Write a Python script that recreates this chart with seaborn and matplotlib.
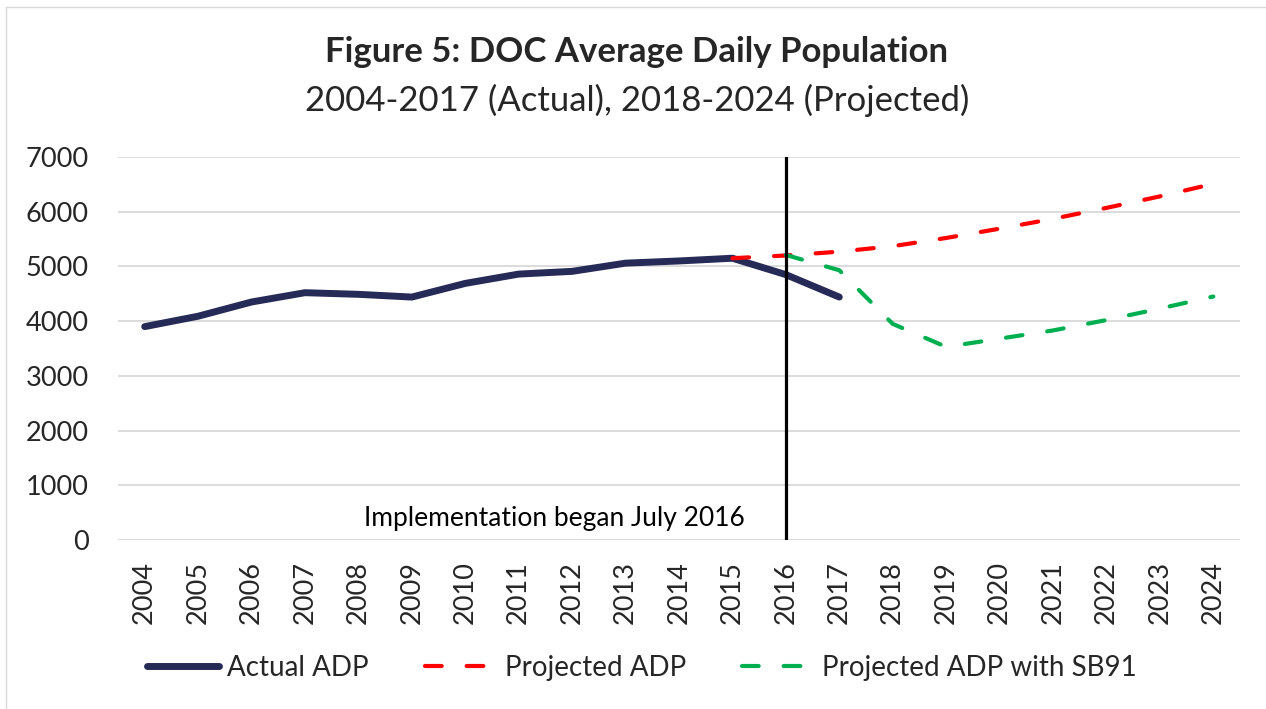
import matplotlib
matplotlib.use("Agg")
import matplotlib.pyplot as plt
import seaborn as sns
import pandas as pd
from matplotlib.lines import Line2D

# ---- data ----
years_actual = [2004, 2005, 2006, 2007, 2008, 2009, 2010, 2011, 2012, 2013, 2014, 2015, 2016, 2017]
actual_adp = [3900, 4090, 4350, 4520, 4490, 4440, 4690, 4860, 4910, 5060, 5100, 5150, 4850, 4440]

years_proj = [2015, 2016, 2017, 2018, 2019, 2020, 2021, 2022, 2023, 2024]
projected_adp = [5150, 5200, 5270, 5370, 5520, 5690, 5870, 6070, 6280, 6510]

years_sb91 = [2016, 2017, 2018, 2019, 2020, 2021, 2022, 2023, 2024]
projected_sb91 = [5210, 4930, 3950, 3530, 3680, 3830, 4020, 4230, 4450]

all_years = list(range(2004, 2025))
y_ticks = [0, 1000, 2000, 3000, 4000, 5000, 6000, 7000]

title = "Figure 5: DOC Average Daily Population"
subtitle = "2004-2017 (Actual), 2018-2024 (Projected)"
annotation = "Implementation began July 2016"
labels = ["Actual ADP", "Projected ADP", "Projected ADP with SB91"]
colors = ["#262A56", "#FF0000", "#00B050"]

sns.set_theme(style="white")
plt.rcParams["font.family"] = ["Lato", "DejaVu Sans"]
plt.rcParams["xtick.major.size"] = 0
plt.rcParams["ytick.major.size"] = 0
plt.rcParams["xtick.major.pad"] = 15
plt.rcParams["ytick.major.pad"] = 21

W, H = 1266, 709
fig = plt.figure(figsize=(W / 100, H / 100), dpi=100)
ax = fig.add_axes([118 / W, (H - 540) / H, (1240 - 118) / W, (540 - 157) / H])

df_a = pd.DataFrame({"year": years_actual, "val": actual_adp})
df_p = pd.DataFrame({"year": years_proj, "val": projected_adp})
df_s = pd.DataFrame({"year": years_sb91, "val": projected_sb91})

for v in y_ticks:
    ax.axhline(v, color="#D9D9D9", lw=1.3, zorder=0)

dash = (4, 6)
sns.lineplot(data=df_p, x="year", y="val", ax=ax, color=colors[1], lw=3.0, zorder=3)
sns.lineplot(data=df_s, x="year", y="val", ax=ax, color=colors[2], lw=3.0, zorder=3)
sns.lineplot(data=df_a, x="year", y="val", ax=ax, color=colors[0], lw=5.0, zorder=2)
for ln in ax.get_lines():
    ln.set_solid_capstyle("round")
    c = matplotlib.colors.to_hex(ln.get_color()).upper()
    if c in ("#FF0000", "#00B050"):
        ln.set_dashes(dash)
        ln.set_dash_capstyle("round")

ax.axvline(2016, color="black", lw=2.3, zorder=4)
ax.text(2015.23, 400, annotation, ha="right", va="center", fontsize=19, color="black")

ax.set_xlim(2003.5, 2024.5)
ax.set_ylim(0, 7000)
ax.set_xticks(all_years)
ax.set_xticklabels([str(y) for y in all_years], rotation=90, fontsize=19.5, va="top")
ax.set_yticks(y_ticks)
ax.set_yticklabels([str(v) for v in y_ticks], fontsize=19.5)
for t in ax.yaxis.get_major_ticks():
    t.set_pad(21)
for t in ax.xaxis.get_major_ticks():
    t.set_pad(15)
ax.set_xlabel("")
ax.set_ylabel("")
for s in ax.spines.values():
    s.set_visible(False)

fig.text(637 / W, 1 - 52 / H, title, ha="center", va="center", fontsize=25, fontweight="bold")
fig.text(637 / W, 1 - 100 / H, subtitle, ha="center", va="center", fontsize=25)

handles = [
    Line2D([0], [0], color=colors[0], lw=5, solid_capstyle="round"),
    Line2D([0], [0], color=colors[1], lw=3.0, dashes=dash, dash_capstyle="round"),
    Line2D([0], [0], color=colors[2], lw=3.0, dashes=dash, dash_capstyle="round"),
]
fig.legend(handles, labels, loc="center", bbox_to_anchor=(642 / W, 1 - 668 / H), ncol=3,
           frameon=False, fontsize=20, handlelength=2.6, handletextpad=0.3,
           columnspacing=2.0)

# light chart-area border (top & left)
fig.add_artist(Line2D([6 / W, 6 / W], [0, 1 - 7 / H], color="#D9D9D9", lw=1, transform=fig.transFigure))
fig.add_artist(Line2D([6 / W, 1], [1 - 7 / H, 1 - 7 / H], color="#D9D9D9", lw=1, transform=fig.transFigure))

fig.savefig("out.png", dpi=100)
